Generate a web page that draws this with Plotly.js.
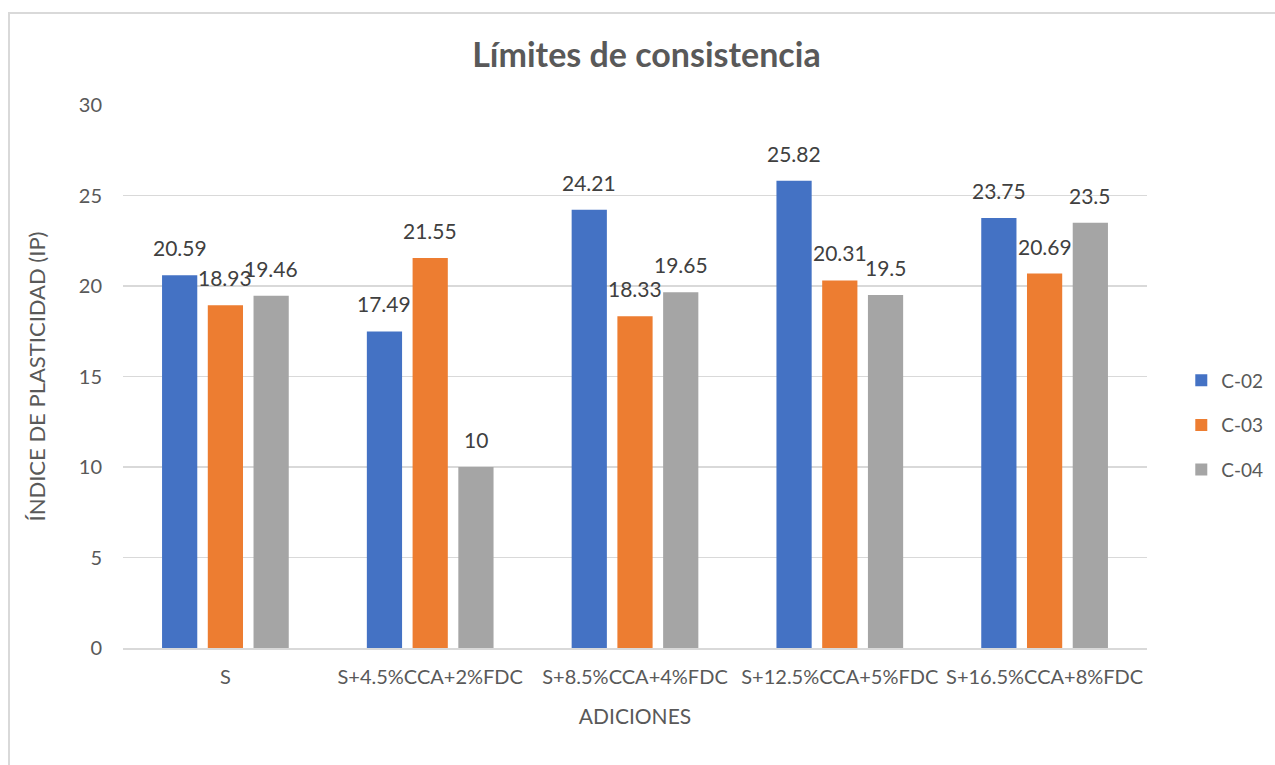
<!DOCTYPE html>
<html>
<head>
<meta charset="utf-8">
<script src="https://cdn.plot.ly/plotly-3.0.1.min.js"></script>
<style>
  html, body { margin: 0; padding: 0; background: #fff; overflow: hidden; }
  #frame { position: absolute; left: 8px; top: 12px; width: 1300px; height: 800px;
           border: 2px solid #d9d9d9; box-sizing: border-box; pointer-events: none; z-index: 2; }
  #chart { position: absolute; left: 0; top: 0; width: 1275px; height: 765px; }
</style>
</head>
<body>
<div id="chart"></div>
<div id="frame"></div>
<script>
// Plasticity index by mix
const categories = ['S', 'S+4.5%CCA+2%FDC', 'S+8.5%CCA+4%FDC', 'S+12.5%CCA+5%FDC', 'S+16.5%CCA+8%FDC'];
const seriesNames = ['C-02', 'C-03', 'C-04'];
const c02 = [20.59, 17.49, 24.21, 25.82, 23.75];
const c03 = [18.93, 21.55, 18.33, 20.31, 20.69];
const c04 = [19.46, 10, 19.65, 19.5, 23.5];
const yTicks = [0, 5, 10, 15, 20, 25, 30];

const colors = ['#4472C4', '#ED7D31', '#A5A5A5'];
const values = [c02, c03, c04];
const FONT = 'Lato, "Open Sans", sans-serif';

const traces = values.map((v, i) => ({
  type: 'bar',
  name: seriesNames[i],
  x: categories,
  y: v,
  marker: { color: colors[i] },
  legendgroup: seriesNames[i],
  hoverinfo: 'x+y+name'
}));

// Value labels sit above each bar, shifted to the bar's slot in the group
const slot = 0.67 / 3;
const annotations = [];
values.forEach((v, i) => {
  v.forEach((val, j) => {
    annotations.push({
      x: j + (i - 1) * slot,
      y: val,
      xref: 'x', yref: 'y',
      text: String(val),
      showarrow: false,
      yanchor: 'bottom',
      yshift: 13,
      font: { family: FONT, size: 21, color: '#404040' }
    });
  });
});

const layout = {
  width: 1275,
  height: 765,
  margin: { l: 123, r: 128, t: 105, b: 117, autoexpand: false },
  paper_bgcolor: '#ffffff',
  plot_bgcolor: '#ffffff',
  font: { family: FONT, color: '#595959', size: 20 },
  title: {
    text: '<b>Límites de consistencia</b>',
    font: { family: FONT, size: 34, color: '#595959' },
    x: 0.507, xanchor: 'center',
    y: 0.928, yanchor: 'middle'
  },
  barmode: 'group',
  bargap: 0.33,
  bargroupgap: 0.23,
  xaxis: {
    type: 'category',
    tickfont: { family: FONT, size: 20, color: '#595959' },
    showline: true, linecolor: '#d9d9d9', linewidth: 2,
    ticks: '', ticklen: 0,
    ticklabelstandoff: 10,
    title: { text: 'ADICIONES', font: { family: FONT, size: 21, color: '#595959' }, standoff: 22 },
    automargin: false
  },
  yaxis: {
    range: [0, 30],
    tickvals: yTicks,
    ticktext: yTicks.map(String),
    tickfont: { family: FONT, size: 20, color: '#595959' },
    showgrid: true, gridcolor: '#d9d9d9', gridwidth: 1.5,
    zeroline: false,
    ticks: '', ticklen: 0,
    ticklabelstandoff: 20,
    title: { text: 'ÍNDICE DE PLASTICIDAD (IP)', font: { family: FONT, size: 22, color: '#595959' }, standoff: 27 },
    automargin: false
  },
  showlegend: true,
  legend: {
    xref: 'container', yref: 'container',
    x: 0.9265, xanchor: 'left',
    y: 0.444, yanchor: 'middle',
    font: { family: FONT, size: 19, color: '#595959' },
    traceorder: 'grouped',
    tracegroupgap: 17,
    itemwidth: 30,
    bgcolor: 'rgba(0,0,0,0)'
  },
  annotations: annotations
};

Plotly.newPlot('chart', traces, layout, { displayModeBar: false, staticPlot: true });
</script>
</body>
</html>
